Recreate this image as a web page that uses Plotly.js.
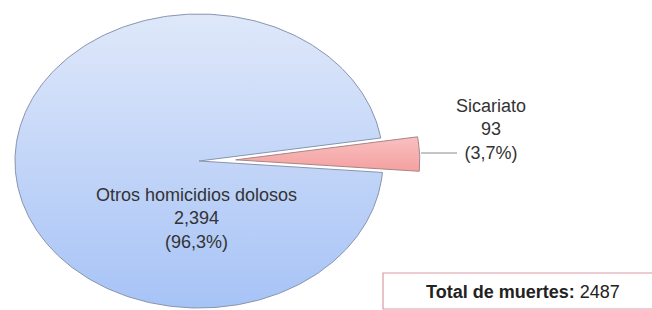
<!DOCTYPE html>
<html>
<head>
<meta charset="utf-8">
<script src="https://cdn.plot.ly/plotly-3.0.1.min.js"></script>
<style>html,body{margin:0;padding:0;background:#fff;}#chart{width:652px;height:310px;}</style>
</head>
<body>
<div id="chart"></div>
<script>
// ---- data ----
const labels = ['Otros homicidios dolosos', 'Sicariato'];
const values = [2394, 93];
const totalLabel = 'Total de muertes:';

// ---- style / layout parameters ----
const W = 652, H = 310;
const CX = 199, CY = 161, RX = 184, RY = 147;   // ellipse geometry in px
const ROT = 9;                                     // start angle (deg, ccw from +x)
const pulls = [0, 0.2];
const fillTop = ['#dfe8fa', '#f9c0c0'];
const fillBot = ['#a7c3f6', '#f4a0a0'];
const lineCols = ['#8695ae', '#a98585'];
const FONT = 'Liberation Sans, Arial, sans-serif';

const total = values.reduce((a, b) => a + b, 0);
const fmtInt = v => v.toLocaleString('en-US');
const fmtPct = v => (v / total * 100).toFixed(1).replace('.', ',') + '%';

const traces = [];
let a = ROT;
values.forEach((v, i) => {
  const span = v / total * 360;
  const mid = (a + span / 2) * Math.PI / 180;
  const ox = pulls[i] * Math.cos(mid), oy = pulls[i] * Math.sin(mid);
  const xs = [ox], ys = [oy];
  const n = Math.max(4, Math.ceil(span / 1));
  for (let k = 0; k <= n; k++) {
    const t = (a + span * k / n) * Math.PI / 180;
    xs.push(ox + Math.cos(t));
    ys.push(oy + Math.sin(t));
  }
  xs.push(ox); ys.push(oy);
  traces.push({
    type: 'scatter', mode: 'lines', x: xs, y: ys, fill: 'toself',
    fillgradient: {type: 'vertical', colorscale: [[0, fillBot[i]], [1, fillTop[i]]]},
    line: {color: lineCols[i], width: 1}, hoverinfo: 'text',
    text: labels[i], showlegend: false
  });
  a += span;
});

const px = x => x / W, py = y => 1 - y / H;

const annotations = [
  {xref: 'paper', yref: 'paper', x: px(196), y: py(218), xanchor: 'center', yanchor: 'middle',
   text: labels[0] + '<br>' + fmtInt(values[0]) + '<br>(' + fmtPct(values[0]) + ')',
   showarrow: false, font: {family: FONT, size: 18, color: '#333'}, align: 'center'},
  {xref: 'paper', yref: 'paper', x: px(491), y: py(129), xanchor: 'center', yanchor: 'middle',
   text: labels[1] + '<br>' + fmtInt(values[1]) + '<br>(' + fmtPct(values[1]) + ')',
   showarrow: false, font: {family: FONT, size: 18, color: '#333'}, align: 'center'},
  {xref: 'paper', yref: 'paper', x: px(523), y: py(292), xanchor: 'center', yanchor: 'middle',
   text: '<b>' + totalLabel + '</b> ' + total, showarrow: false,
   font: {family: FONT, size: 18, color: '#222'}}
];

const shapes = [
  {type: 'line', xref: 'paper', yref: 'paper', x0: px(421), x1: px(457), y0: py(153), y1: py(153),
   line: {color: '#8a8a8a', width: 1}},
  {type: 'rect', xref: 'paper', yref: 'paper', x0: px(383), x1: px(660), y0: py(273), y1: py(309),
   line: {color: '#d99aa4', width: 1.2}, fillcolor: 'rgba(0,0,0,0)'}
];

const layout = {
  width: W, height: H, margin: {l: 0, r: 0, t: 0, b: 0},
  paper_bgcolor: '#fff', plot_bgcolor: '#fff',
  xaxis: {range: [-CX / RX, (W - CX) / RX], visible: false, fixedrange: true},
  yaxis: {range: [-(H - CY) / RY, CY / RY], visible: false, fixedrange: true},
  annotations, shapes, showlegend: false
};

Plotly.newPlot('chart', traces, layout, {displayModeBar: false, staticPlot: true});
</script>
</body>
</html>
